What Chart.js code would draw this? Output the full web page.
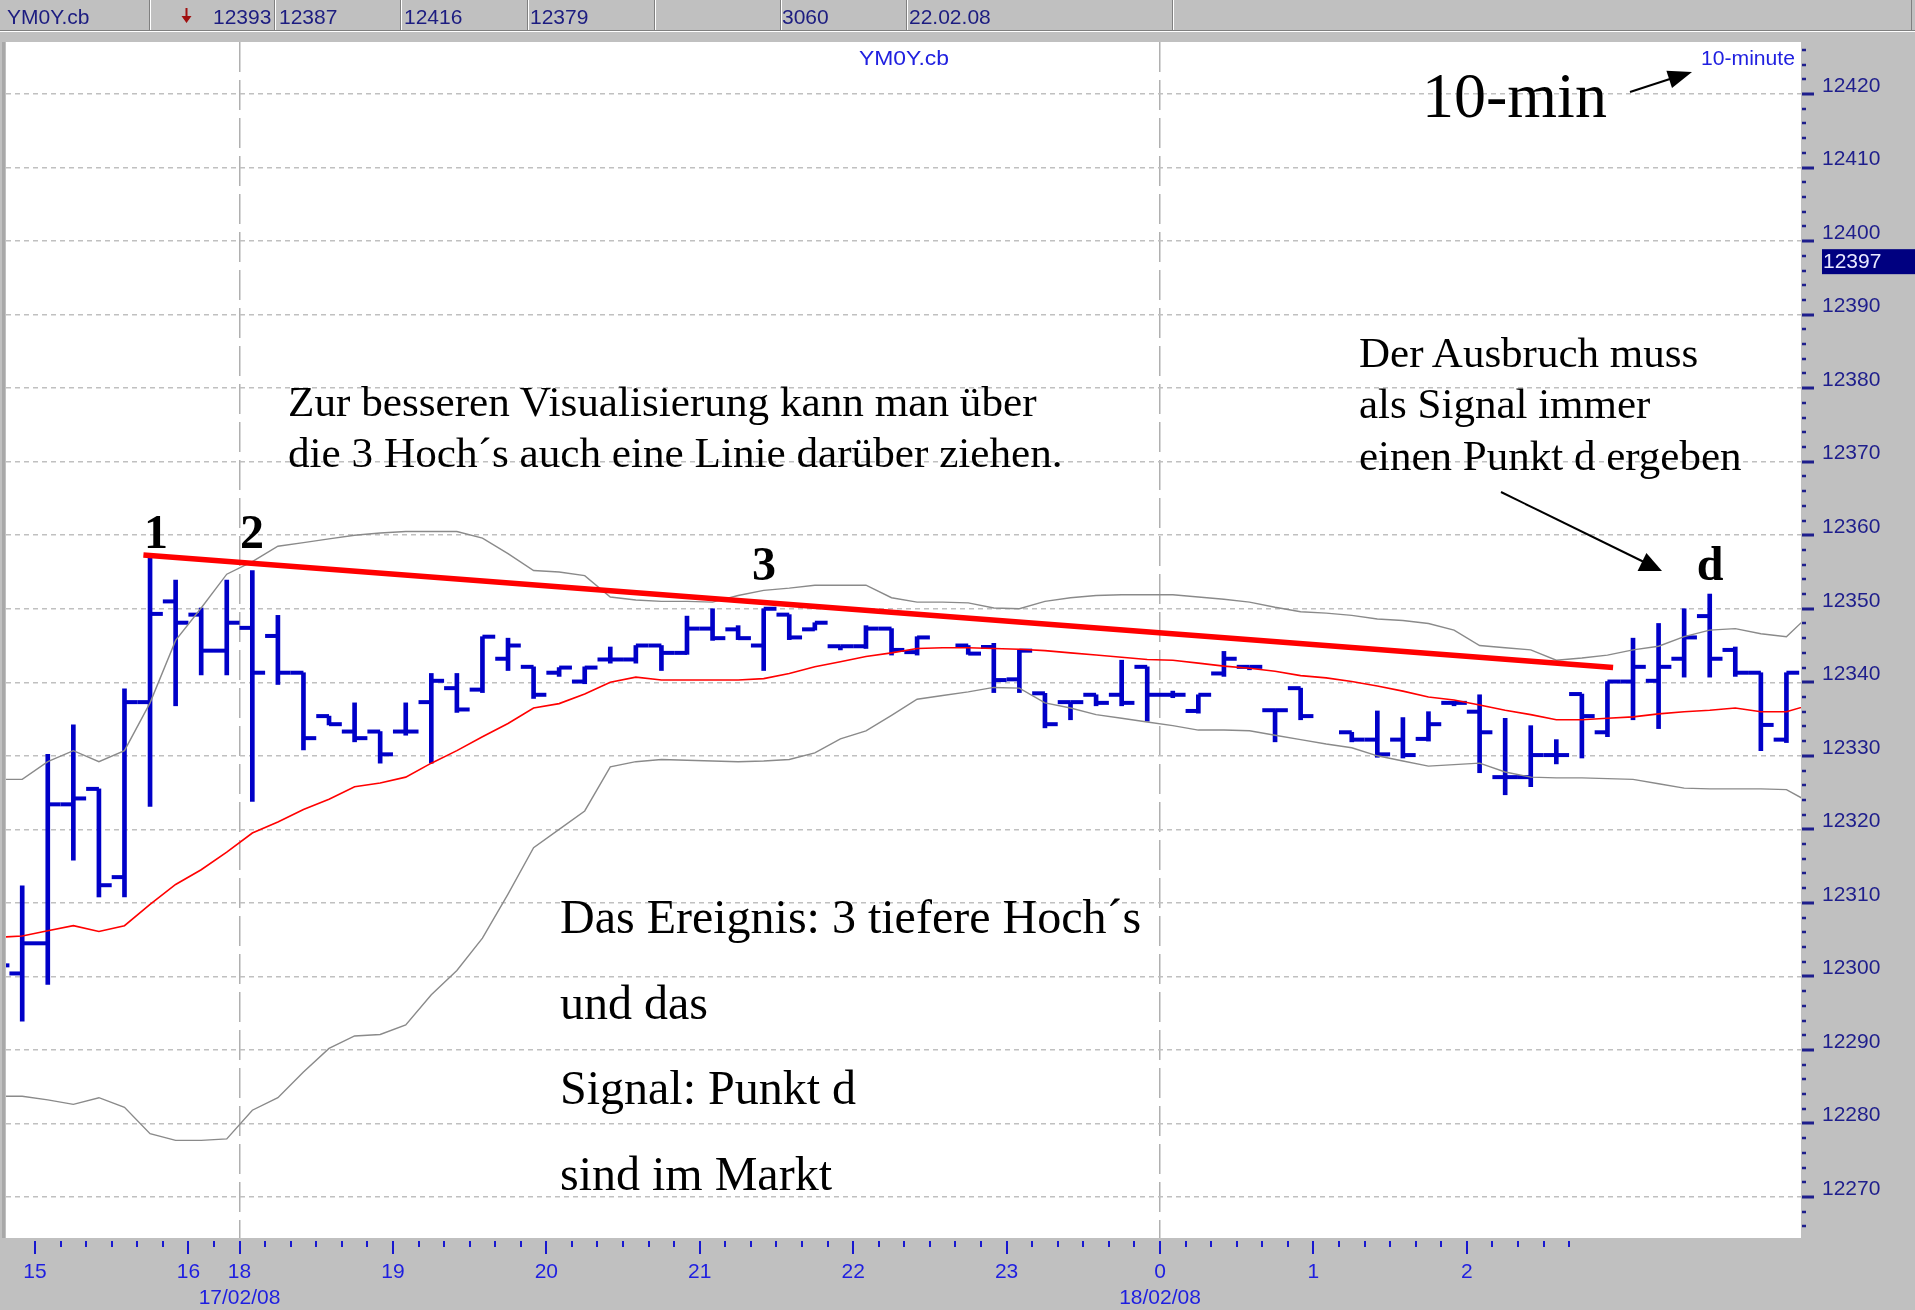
<!DOCTYPE html>
<html>
<head>
<meta charset="utf-8">
<title>YM0Y.cb 10-minute</title>
<script src="https://cdn.jsdelivr.net/npm/chart.js@4.4.1/dist/chart.umd.min.js"></script>
<style>
  html, body { margin:0; padding:0; background:#c0c0c0; }
  #wrap { position:relative; width:1915px; height:1310px; overflow:hidden; background:#c0c0c0; }
  #chart { position:absolute; left:0; top:0; }
  #overlay { position:absolute; left:0; top:0; pointer-events:none; }
</style>
</head>
<body>
<div id="wrap">
<canvas id="chart" width="1915" height="1310"></canvas>
<svg id="overlay" width="1915" height="1310" xmlns="http://www.w3.org/2000/svg">
  <!-- header bar -->
  <g stroke-width="1">
    <line x1="0" y1="30.5" x2="1915" y2="30.5" stroke="#808080"/>
    <line x1="0" y1="31.5" x2="1915" y2="31.5" stroke="#ffffff"/>
    <line x1="149.5" y1="0" x2="149.5" y2="30" stroke="#808080"/><line x1="150.5" y1="0" x2="150.5" y2="30" stroke="#ffffff"/>
    <line x1="274.5" y1="0" x2="274.5" y2="30" stroke="#808080"/><line x1="275.5" y1="0" x2="275.5" y2="30" stroke="#ffffff"/>
    <line x1="400.5" y1="0" x2="400.5" y2="30" stroke="#808080"/><line x1="401.5" y1="0" x2="401.5" y2="30" stroke="#ffffff"/>
    <line x1="527.5" y1="0" x2="527.5" y2="30" stroke="#808080"/><line x1="528.5" y1="0" x2="528.5" y2="30" stroke="#ffffff"/>
    <line x1="654.5" y1="0" x2="654.5" y2="30" stroke="#808080"/><line x1="655.5" y1="0" x2="655.5" y2="30" stroke="#ffffff"/>
    <line x1="780.5" y1="0" x2="780.5" y2="30" stroke="#808080"/><line x1="781.5" y1="0" x2="781.5" y2="30" stroke="#ffffff"/>
    <line x1="906.5" y1="0" x2="906.5" y2="30" stroke="#808080"/><line x1="907.5" y1="0" x2="907.5" y2="30" stroke="#ffffff"/>
    <line x1="1172.5" y1="0" x2="1172.5" y2="30" stroke="#808080"/><line x1="1173.5" y1="0" x2="1173.5" y2="30" stroke="#ffffff"/>
    <line x1="1911.5" y1="0" x2="1911.5" y2="30" stroke="#808080"/>
  </g>
  <g font-family="'Liberation Sans', Arial, sans-serif" font-size="21" fill="#1c1c80">
    <text x="7" y="24">YM0Y.cb</text>
    <text x="213" y="24">12393</text>
    <text x="279" y="24">12387</text>
    <text x="404" y="24">12416</text>
    <text x="530" y="24">12379</text>
    <text x="782" y="24">3060</text>
    <text x="909" y="24">22.02.08</text>
  </g>
  <path d="M185.5 8 L187.5 8 L187.5 16 L191.5 16 L186.5 23 L181.5 16 L185.5 16 Z" fill="#a01010"/>
  <!-- plot top labels -->
  <g font-family="'Liberation Sans', Arial, sans-serif" font-size="20" fill="#2020e0">
    <text x="859" y="65" textLength="90" lengthAdjust="spacingAndGlyphs">YM0Y.cb</text>
    <text x="1701" y="65" textLength="94" lengthAdjust="spacingAndGlyphs">10-minute</text>
  </g>
  <!-- annotations -->
  <g font-family="'Liberation Serif', 'Times New Roman', serif" fill="#000000">
    <text x="1422" y="117" font-size="64">10-min</text>
    <text x="288" y="416" font-size="43.2">Zur besseren Visualisierung kann man über</text>
    <text x="288" y="467" font-size="43.2">die 3 Hoch´s auch eine Linie darüber ziehen.</text>
    <text x="1359" y="367" font-size="43">Der Ausbruch muss</text>
    <text x="1359" y="418" font-size="43">als Signal immer</text>
    <text x="1359" y="470" font-size="43">einen Punkt d ergeben</text>
    <text x="560" y="933" font-size="48">Das Ereignis: 3 tiefere Hoch´s</text>
    <text x="560" y="1019" font-size="48">und das</text>
    <text x="560" y="1104" font-size="48">Signal: Punkt d</text>
    <text x="560" y="1190" font-size="48">sind im Markt</text>
    <g font-weight="bold" font-size="48" text-anchor="middle">
      <text x="156" y="548">1</text>
      <text x="252" y="548">2</text>
      <text x="764" y="580">3</text>
      <text x="1710" y="580">d</text>
    </g>
  </g>
  <!-- arrows -->
  <g stroke="#000" stroke-width="2" fill="#000">
    <line x1="1630" y1="92" x2="1676" y2="77"/>
    <polygon points="1692,72 1672,88 1666.4,70.8" stroke="none"/>
    <line x1="1501" y1="492" x2="1646" y2="563"/>
    <polygon points="1662,571 1637.6,571 1646.4,553" stroke="none"/>
  </g>
</svg>
</div>
<script>
// ---------------- data ----------------
const firstBar = -1;   // index of first bar (partly hidden at the left edge)
const opens  = [12300.0,12300.4,12304.5,12323.4,12325.5,12313.5,12337.3,12351.0,12349.2,12344.3,
                12347.4,12346.3,12341.3,12335.4,12333.3,12333.3,12333.3,12337.3,12339.2,12339.0,
                12343.2,12342.1,12341.3,12340.1,12343.1,12343.1,12345.0,12344.0,12347.3,12347.2,
                12345.0,12349.2,12347.2,12344.9,12344.9,12347.3,12344.1,null,12345.0,12344.8,
                12340.4,12338.5,12337.3,12338.3,12338.3,12342.1,12338.3,12336.1,12341.2,12342.1,
                12336.2,12339.2,null,12333.2,12332.2,12332.2,12332.3,12337.2,12336.0,12327.1,
                12327.1,12330.1,12338.4,12333.2,12340.1,12340.2,12343.2,12349.0,12344.4,12341.3,
                12332.2,null];
const highs  = [12303.0,12312.3,12330.2,12334.2,12325.5,12339.1,12356.9,12353.9,12350.1,12353.9,
                12355.2,12349.1,12341.3,12335.4,12337.2,12333.3,12337.2,12341.2,12341.2,12346.2,
                12346.0,12342.1,12342.0,12342.1,12344.8,12345.0,12345.0,12349.0,12350.0,12347.7,
                12350.0,12349.2,12348.1,12344.9,12347.7,12347.3,12346.2,null,12345.0,12345.3,
                12344.4,12338.5,12337.3,12338.3,12343.0,12342.1,12338.8,12338.3,12344.2,12342.1,
                12336.2,12339.2,null,12333.2,12336.1,12335.2,12336.0,12337.2,12338.3,12335.1,
                12334.1,12332.2,12338.4,12340.1,12346.0,12348.0,12350.0,12352.0,12344.8,12341.3,
                12341.3,null];
const lows   = [12298.0,12293.9,12298.9,12315.8,12310.8,12310.8,12323.1,12336.8,12341.0,12341.0,
                12323.8,12339.7,12330.8,12334.2,12331.9,12329.0,12332.8,12329.0,12335.9,12338.6,
                12341.6,12337.8,12340.8,12339.8,12342.6,12342.6,12341.6,12343.8,12345.7,12345.8,
                12341.6,12345.8,12347.1,12344.4,12344.6,12343.7,12343.7,null,12343.8,12338.6,
                12338.6,12333.8,12334.9,12336.8,12336.8,12334.7,12337.9,12335.8,12340.8,12341.7,
                12331.9,12334.9,null,12331.9,12329.8,12329.7,12332.0,12336.8,12327.7,12324.7,
                12325.8,12328.9,12329.7,12332.6,12334.9,12333.7,12340.7,12340.7,12340.8,12330.7,
                12331.8,null];
const closes = [12301.5,12304.5,12323.4,12324.2,12312.4,12337.3,12349.3,12348.1,12344.3,12348.1,
                12341.3,12341.3,12332.4,12334.3,12332.4,12330.2,12333.3,12340.2,12336.3,12346.2,
                12345.0,12338.3,12342.0,12342.0,12343.1,12345.0,12344.0,12347.3,12346.0,12346.0,
                12350.0,12346.1,12348.1,12344.9,12347.3,12344.4,12346.1,null,12343.9,12340.3,
                12344.3,12334.3,12337.3,12337.2,12337.2,12338.3,12338.3,12338.3,12343.2,12342.1,
                12336.2,12335.4,null,12332.2,12330.2,12330.1,12334.3,12337.2,12333.2,12327.1,
                12330.1,12330.1,12335.4,12340.1,12342.1,12342.1,12346.1,12343.2,12341.3,12334.2,
                12341.3,null];
const movingAvg = [12305.3,12305.5,12306.2,12306.9,12306.1,12306.9,12309.8,12312.5,12314.5,12316.9,
                12319.5,12321.0,12322.7,12324.1,12325.8,12326.3,12327.1,12329.0,12330.7,12332.6,
                12334.4,12336.5,12337.1,12338.4,12340.0,12340.7,12340.3,12340.3,12340.3,12340.3,
                12340.5,12341.2,12342.1,12342.8,12343.5,12344.0,12344.6,12344.7,12344.7,12344.6,
                12344.5,12344.3,12344.0,12343.7,12343.4,12343.1,12343.0,12342.6,12342.2,12341.9,
                12341.5,12340.9,12340.6,12340.1,12339.5,12338.8,12338.0,12337.6,12336.9,12336.2,
                12335.6,12334.9,12334.9,12335.1,12335.3,12335.7,12336.0,12336.2,12336.5,12336.0,
                12336.0,12337.0];
const upperBand = [12326.8,12326.8,12329.2,12330.7,12329.2,12330.7,12337.2,12345.7,12350.1,12354.7,
                12356.4,12358.5,12359.0,12359.5,12360.0,12360.3,12360.5,12360.5,12360.5,12359.6,
                12357.5,12355.2,12355.0,12354.5,12351.6,12351.2,12351.0,12351.0,12350.9,12351.8,
                12352.5,12352.8,12353.2,12353.2,12353.2,12351.5,12350.9,12350.9,12350.8,12350.1,
                12350.0,12351.0,12351.5,12351.8,12351.9,12351.9,12351.9,12351.6,12351.3,12350.9,
                12350.2,12349.6,12349.4,12349.1,12348.6,12348.4,12348.0,12347.1,12345.0,12344.7,
                12344.4,12343.0,12343.3,12343.7,12344.4,12344.9,12346.2,12347.1,12347.3,12346.6,
                12346.2,12349.5];
const lowerBand = [12283.7,12283.7,12283.2,12282.6,12283.5,12282.2,12278.6,12277.7,12277.7,12277.9,
                12281.8,12283.5,12287.0,12290.2,12291.9,12292.1,12293.4,12297.5,12300.8,12305.2,
                12311.2,12317.5,12320.0,12322.5,12328.5,12329.2,12329.5,12329.4,12329.3,12329.2,
                12329.3,12329.5,12330.4,12332.3,12333.4,12335.5,12337.7,12338.2,12338.7,12339.3,
                12339.2,12337.2,12336.5,12335.6,12335.1,12334.6,12334.1,12333.5,12333.5,12333.4,
                12332.8,12332.2,12331.6,12331.1,12330.0,12329.3,12328.6,12328.8,12329.0,12327.8,
                12327.1,12327.0,12327.0,12326.9,12326.8,12326.2,12325.6,12325.5,12325.5,12325.5,
                12325.4,12323.5];
// hand-drawn resistance line over the three highs (bar position, price)
const trendX = [4.74, 62.22];
const trendY = [12357.3, 12342.0];
// time axis: one slot per 10-minute tick
const xTickLabels = ['15','','','','','','16','','18','','','','','','19','','','','','',
                     '20','','','','','','21','','','','','','22','','','','','','23','',
                     '','','','','0','','','','','','1','','','','','','2','','','',''];
const dateSlots = [8, 44];
const dateTexts = ['17/02/08', '18/02/08'];
const yTickValues = [12270,12280,12290,12300,12310,12320,12330,12340,12350,12360,12370,12380,12390,12400,12410,12420];
const lastPrice = 12397;

// ---------------- view settings ----------------
const xMin = -0.634, xMax = 69.57, yMin = 12264.42, yMax = 12427.08;
const slotOffset = 0.5;     // ticks sit between bars
const tickReach = 0.25;     // open/close tick centre offset (in bars)
const yMinorStep = 2;
const barBlue = '#0000c8';

const idx = opens.map((_, i) => firstBar + i);
const has = i => highs[i] !== null;
const rangeData = idx.map((k, i) => ({x: k, y: has(i) ? [lows[i], highs[i]] : null})).filter((_, i) => has(i));
const openData  = idx.map((k, i) => ({x: k - tickReach, y: opens[i]})).filter((_, i) => has(i));
const closeData = idx.map((k, i) => ({x: k + tickReach, y: closes[i]})).filter((_, i) => has(i));
const maData    = idx.map((k, i) => ({x: k, y: movingAvg[i]}));
const upData    = idx.map((k, i) => ({x: k, y: upperBand[i]}));
const loData    = idx.map((k, i) => ({x: k, y: lowerBand[i]}));
const trendData = trendX.map((x, i) => ({x, y: trendY[i]}));

const tickRadius = ctx => {
  const xs = ctx.chart.scales.x;
  return Math.abs(xs.getPixelForValue(1) - xs.getPixelForValue(0)) * tickReach;
};

const chartBg = {
  id: 'chartBg',
  beforeDraw(chart) {
    const {ctx, chartArea: a} = chart;
    ctx.save();
    ctx.fillStyle = '#ffffff';
    ctx.fillRect(a.left, a.top, a.right - a.left, a.bottom - a.top);
    ctx.fillStyle = '#a8a8a8';
    ctx.fillRect(a.left - 4, a.top, 3, a.bottom - a.top);
    ctx.restore();
  }
};

const axisMarks = {
  id: 'axisMarks',
  afterDraw(chart) {
    const {ctx, chartArea: a, scales: {x, y}} = chart;
    ctx.save();
    ctx.strokeStyle = '#1818d0';
    ctx.lineWidth = 2;
    x.ticks.forEach((t, j) => {
      const px = Math.round(x.getPixelForValue(t.value));
      const major = xTickLabels[j] !== '';
      ctx.beginPath();
      ctx.moveTo(px, a.bottom + 3);
      ctx.lineTo(px, a.bottom + (major ? 16 : 9));
      ctx.stroke();
    });
    ctx.strokeStyle = '#1e1e8c';
    const start = Math.ceil(y.min / yMinorStep) * yMinorStep;
    for (let v = start; v <= y.max; v += yMinorStep) {
      const py = Math.round(y.getPixelForValue(v));
      const major = v % 10 === 0;
      ctx.lineWidth = major ? 3 : 2.5;
      ctx.beginPath();
      ctx.moveTo(a.right + 1, py);
      ctx.lineTo(a.right + (major ? 13 : 5), py);
      ctx.stroke();
    }
    const py = y.getPixelForValue(lastPrice);
    ctx.fillStyle = '#000080';
    ctx.fillRect(a.right + 21, py - 14, chart.width - a.right - 21, 25);
    ctx.fillStyle = '#e8e8ff';
    ctx.font = '21px "Liberation Sans", Arial, sans-serif';
    ctx.textBaseline = 'middle';
    ctx.textAlign = 'left';
    ctx.fillText(String(lastPrice), a.right + 22, py - 1);
    ctx.restore();
  }
};

Chart.defaults.font.family = '"Liberation Sans", Arial, sans-serif';

new Chart(document.getElementById('chart'), {
  type: 'line',
  data: {
    datasets: [
      { type: 'line', data: trendData, borderColor: '#ff0000', borderWidth: 5.5, pointRadius: 0, order: 0, clip: 0 },
      { type: 'line', data: maData, borderColor: '#ff0000', borderWidth: 1.6, pointRadius: 0, order: 1, clip: 0 },
      { type: 'line', data: upData, borderColor: '#8a8a8a', borderWidth: 1.4, pointRadius: 0, order: 1, clip: 0 },
      { type: 'line', data: loData, borderColor: '#8a8a8a', borderWidth: 1.4, pointRadius: 0, order: 1, clip: 0 },
      { type: 'line', data: openData, showLine: false, pointStyle: 'line', pointRadius: tickRadius, pointHoverRadius: tickRadius,
        pointBorderWidth: 4, pointBorderColor: barBlue, pointBackgroundColor: barBlue, order: 2, clip: 0 },
      { type: 'line', data: closeData, showLine: false, pointStyle: 'line', pointRadius: tickRadius, pointHoverRadius: tickRadius,
        pointBorderWidth: 4, pointBorderColor: barBlue, pointBackgroundColor: barBlue, order: 2, clip: 0 },
      { type: 'bar', data: rangeData, backgroundColor: barBlue, borderWidth: 0, borderSkipped: false,
        barThickness: 4, grouped: false, order: 3, clip: 0 }
    ]
  },
  options: {
    responsive: false,
    devicePixelRatio: 1,
    animation: false,
    events: [],
    layout: { padding: { left: 6, top: 42, right: 0, bottom: 0 } },
    plugins: { legend: { display: false }, tooltip: { enabled: false } },
    scales: {
      x: {
        type: 'linear', min: xMin, max: xMax, offset: false, bounds: 'data',
        afterBuildTicks: s => { s.ticks = xTickLabels.map((_, j) => ({ value: j + slotOffset })); },
        afterFit: s => { s.height = 72; },
        grid: {
          display: true, drawTicks: false, drawOnChartArea: true, offset: false, lineWidth: 1.5,
          color: c => dateSlots.includes(c.index) ? '#b0b0b0' : 'rgba(0,0,0,0)'
        },
        border: { display: false, dash: [30, 8] },
        ticks: {
          autoSkip: false, maxRotation: 0, minRotation: 0, padding: 22, color: '#1e1ee0',
          font: { size: 21 },
          callback: (v, j) => {
            const d = dateSlots.indexOf(j);
            return d >= 0 ? [xTickLabels[j], dateTexts[d]] : xTickLabels[j];
          }
        }
      },
      y: {
        type: 'linear', position: 'right', min: yMin, max: yMax, bounds: 'data', beginAtZero: false,
        afterBuildTicks: s => { s.ticks = yTickValues.map(v => ({ value: v })); },
        afterFit: s => { s.width = 114; },
        grid: { drawTicks: false, color: '#c0c0c0', lineWidth: 1.5 },
        border: { display: false, dash: [5, 4] },
        ticks: { padding: 21, labelOffset: -8, color: '#1e1e8c', font: { size: 21 }, callback: v => String(v) }
      }
    }
  },
  plugins: [chartBg, axisMarks]
});
</script>
</body>
</html>
